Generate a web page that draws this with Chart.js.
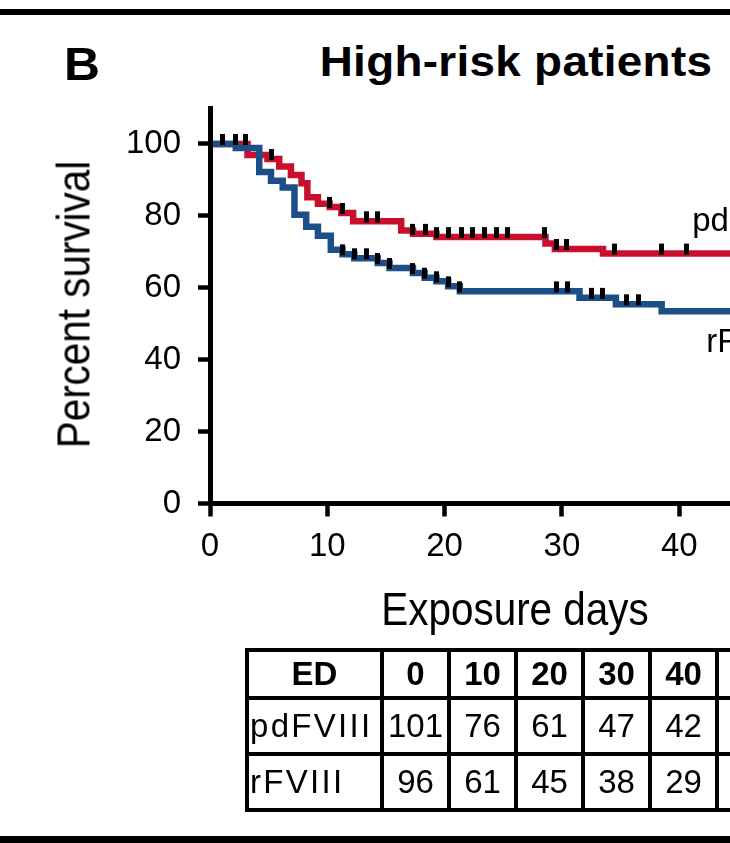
<!DOCTYPE html>
<html>
<head>
<meta charset="utf-8">
<script src="https://cdn.jsdelivr.net/npm/chart.js@4.4.1/dist/chart.umd.min.js"></script>
<style>
  html, body { margin: 0; padding: 0; background: #fff; }
  #page { position: relative; width: 730px; height: 843px; overflow: hidden; font-family: "Liberation Sans", Arial, sans-serif; color: #000; }
  .rule { position: absolute; left: 0; width: 730px; height: 6px; background: #000; }
  .txt { position: absolute; white-space: nowrap; line-height: 1; }
  #chartBox { position: absolute; left: 0; top: 0; width: 1000px; height: 640px; }
  #risk { position: absolute; left: 245px; top: 648px; width: 541px; border-spacing: 0; border-left: 4px solid #000; border-top: 4px solid #000; table-layout: fixed; }
  #risk td { border-right: 4px solid #000; border-bottom: 4px solid #000; padding: 0; text-align: center; vertical-align: middle; font-size: 33px; white-space: nowrap; overflow: hidden; }
  #risk tr.head td { font-weight: bold; font-size: 33px; height: 44px; }
  #risk tr.body td { height: 52px; }
  #risk td.lab { text-align: left; padding-left: 1px; letter-spacing: 2.3px; }
  #risk tr.head td.lab { text-align: center; padding-left: 0; letter-spacing: 0; }
</style>
</head>
<body>
<div id="page">
  <div class="rule" style="top:9px"></div>
  <div class="txt" style="left:64px; top:40px; font-size:47px; font-weight:bold; transform:scaleX(1.06); transform-origin:left;">B</div>
  <div class="txt" style="left:216px; top:40px; width:600px; text-align:center; font-size:43px; font-weight:bold; letter-spacing:0.3px; transform:scaleX(1.065);">High-risk patients</div>
  <div id="chartBox"><canvas id="km" width="1000" height="640"></canvas></div>
  <div class="txt" style="left:-127px; top:281px; width:400px; text-align:center; font-size:47px; transform:rotate(-90deg) scaleX(0.86);">Percent survival</div>
  <div class="txt" style="left:265px; top:585px; width:500px; text-align:center; font-size:47px; transform:scaleX(0.86);">Exposure days</div>
  <table id="risk">
    <colgroup><col style="width:135px"><col style="width:67px"><col style="width:67px"><col style="width:67px"><col style="width:67px"><col style="width:67px"><col style="width:67px"></colgroup>
  </table>
  <div class="rule" style="top:836px; height:7px"></div>
</div>
<script>
// Kaplan-Meier steps: day of each step and survival (%) after it
const pdDays = [0, 3.2, 4.9, 5.9, 6.9, 7.8, 8.3, 9.2, 10.2, 11.2, 12.2, 16.3, 17.3, 19.3, 28.6, 29.4, 33.5, 52];
const pdSurv = [100, 96.9, 95.8, 93.7, 91.4, 89.1, 85.2, 83.4, 82.5, 80.8, 78.5, 75.9, 75.0, 74.1, 72.3, 70.8, 69.5, 69.5];
const rDays = [0, 2.2, 4.2, 5.2, 6.2, 7.2, 8.2, 9.2, 10.3, 11.3, 12.3, 14.3, 15.3, 17.3, 18.3, 19.3, 20.3, 21.3, 31.5, 34.6, 38.5, 52];
const rSurv = [100, 98.9, 92.2, 89.8, 87.9, 80.3, 77.0, 74.5, 70.6, 69.3, 68.2, 66.9, 65.5, 64.1, 62.8, 61.8, 60.4, 59.0, 57.2, 55.4, 53.5, 53.5];

// censored observations (days)
const pdCensored = [1.1, 2.2, 3.0, 5.2, 10.2, 11.3, 13.3, 14.3, 17.3, 18.4, 19.3, 20.3, 21.4, 22.4, 23.4, 24.4, 25.4, 28.5, 29.5, 30.4, 34.5, 38.5, 40.6];
const rCensored = [11.3, 12.3, 13.3, 14.3, 15.3, 17.3, 18.3, 19.3, 20.3, 21.3, 29.5, 30.5, 32.5, 33.5, 35.5, 36.5];

// axis ticks
const xTicks = [0, 10, 20, 30, 40, 50];
const yTicks = [0, 20, 40, 60, 80, 100];

// numbers at risk table
const tableHead = ['ED', '0', '10', '20', '30', '40'];
const pdAtRisk = ['pdFVIII', 101, 76, 61, 47, 42];
const rAtRisk = ['rFVIII', 96, 61, 45, 38, 29];

const RED = '#c8102e';
const BLUE = '#1c4f8a';
const FONT = '"Liberation Sans", Arial, sans-serif';

function survAt(days, surv, t) {
  let v = surv[0];
  for (let i = 0; i < days.length; i++) if (days[i] <= t) v = surv[i];
  return v;
}

// censor mark: small black bar sitting on top of the line
const tick = document.createElement('canvas');
tick.width = 5; tick.height = 22;
const tctx = tick.getContext('2d');
tctx.fillStyle = '#000';
tctx.fillRect(0, 1, 5, 11);

const lineLabels = {
  id: 'lineLabels',
  afterDatasetsDraw(chart) {
    const {ctx, scales: {x, y}} = chart;
    ctx.save();
    ctx.font = '33px ' + FONT;
    ctx.fillStyle = '#000';
    ctx.textAlign = 'left';
    ctx.textBaseline = 'alphabetic';
    ctx.fillText('pdFVIII', x.getPixelForValue(41.1), y.getPixelForValue(75.8));
    ctx.fillText('rFVIII', x.getPixelForValue(42.3), y.getPixelForValue(42.1));
    ctx.restore();
  }
};

new Chart(document.getElementById('km'), {
  type: 'line',
  data: {
    datasets: [
      {
        label: 'pdFVIII censored',
        data: pdCensored.map(t => ({x: t, y: survAt(pdDays, pdSurv, t)})),
        showLine: false, pointStyle: tick, pointRadius: 5, order: 0
      },
      {
        label: 'rFVIII censored',
        data: rCensored.map(t => ({x: t, y: survAt(rDays, rSurv, t)})),
        showLine: false, pointStyle: tick, pointRadius: 5, order: 0
      },
      {
        label: 'rFVIII',
        data: rDays.map((d, i) => ({x: d, y: rSurv[i]})),
        stepped: true, borderColor: BLUE, borderWidth: 6.5, pointRadius: 0,
        borderJoinStyle: 'miter', borderCapStyle: 'butt', fill: false, order: 1
      },
      {
        label: 'pdFVIII',
        data: pdDays.map((d, i) => ({x: d, y: pdSurv[i]})),
        stepped: true, borderColor: RED, borderWidth: 6.5, pointRadius: 0,
        borderJoinStyle: 'miter', borderCapStyle: 'butt', fill: false, order: 2
      }
    ]
  },
  options: {
    responsive: false,
    animation: false,
    layout: { padding: { top: 108, right: 180, left: 0, bottom: 0 } },
    plugins: { legend: { display: false }, tooltip: { enabled: false } },
    scales: {
      x: {
        type: 'linear', min: 0, max: 52,
        afterBuildTicks: s => { s.ticks = xTicks.map(v => ({value: v})); },
        afterFit: s => { s.height = 136.5; },
        ticks: { autoSkip: false, maxRotation: 0, padding: 11, color: '#000', font: { family: FONT, size: 33 } },
        grid: { drawOnChartArea: false, tickLength: 13, tickWidth: 4.5, tickColor: '#000' },
        border: { color: '#000', width: 5, z: 1 }
      },
      y: {
        min: 0, max: 110,
        afterBuildTicks: s => { s.ticks = yTicks.map(v => ({value: v})); },
        afterFit: s => { s.width = 210; },
        ticks: { padding: 17, color: '#000', font: { family: FONT, size: 33 } },
        grid: { drawOnChartArea: false, tickLength: 12, tickWidth: 4.5, tickColor: '#000' },
        border: { color: '#000', width: 5, z: 1 }
      }
    }
  },
  plugins: [lineLabels]
});

// numbers-at-risk table, with the next (cropped) column left empty
const table = document.getElementById('risk');
[tableHead, pdAtRisk, rAtRisk].forEach((row, r) => {
  const tr = document.createElement('tr');
  tr.className = r === 0 ? 'head' : 'body';
  row.concat(['']).forEach((v, c) => {
    const td = document.createElement('td');
    if (c === 0) td.className = 'lab';
    td.textContent = v;
    tr.appendChild(td);
  });
  table.appendChild(tr);
});
</script>
</body>
</html>
